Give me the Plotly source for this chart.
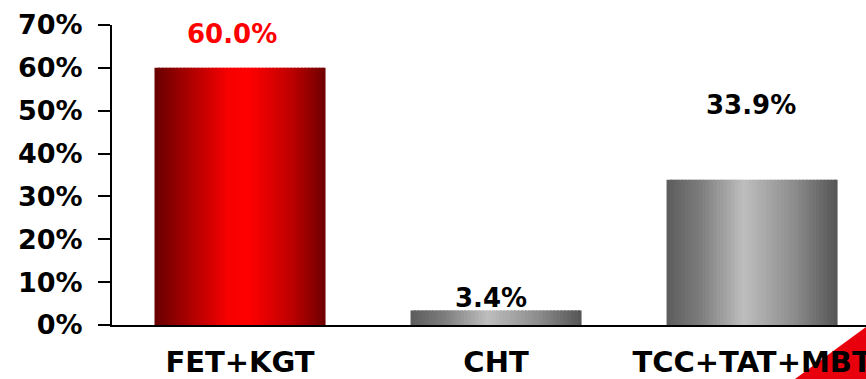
import plotly.graph_objects as go

# Data
categories = ["FET+KGT", "CHT", "TCC+TAT+MBT"]
values = [60.0, 3.4, 33.9]
label_colors = ["#ff0000", "#000000", "#000000"]
label_y = [67.9, 6.3, 51.3]          # vertical position of the value labels (axis units)
label_dx = [-8, -5, -1]              # small horizontal nudges of the labels (px)
y_ticks = [0, 10, 20, 30, 40, 50, 60, 70]
y_tick_text = [f"{t}%" for t in y_ticks]

# Horizontal shading profiles (left edge -> centre -> right edge)
red_stops = [(0.0, (104, 0, 0)), (0.2, (170, 0, 0)), (0.42, (245, 0, 0)), (0.55, (255, 0, 0)),
             (0.8, (190, 0, 0)), (1.0, (110, 0, 0))]
gray_stops = [(0.0, (92, 92, 92)), (0.2, (125, 125, 125)), (0.45, (190, 190, 190)),
              (0.75, (140, 140, 140)), (1.0, (85, 85, 85))]


def interp(stops, t):
    for (t0, c0), (t1, c1) in zip(stops[:-1], stops[1:]):
        if t0 <= t <= t1:
            f = (t - t0) / (t1 - t0) if t1 > t0 else 0
            r, g, b = (round(a + (bb - a) * f) for a, bb in zip(c0, c1))
            return f"rgb({r},{g},{b})"
    r, g, b = stops[-1][1]
    return f"rgb({r},{g},{b})"


bar_width = 0.668
n_strips = 48
step = bar_width / n_strips

fig = go.Figure()
for i in range(n_strips):
    t = (i + 0.5) / n_strips
    off = -bar_width / 2 + i * step
    w = min(step * 1.6, bar_width / 2 - off)
    cols = [interp(red_stops, t), interp(gray_stops, t), interp(gray_stops, t)]
    fig.add_trace(go.Bar(
        x=categories, y=values, width=w, offset=off,
        marker=dict(color=cols, line=dict(width=0)),
        hoverinfo="skip", showlegend=False,
    ))

for cat, v, c, ly, dx in zip(categories, values, label_colors, label_y, label_dx):
    fig.add_annotation(
        x=cat, y=ly, text=f"{v:.1f}%", showarrow=False,
        xanchor="center", yanchor="middle", xshift=dx,
        font=dict(family="DejaVu Sans", size=26, color=c, weight="bold"),
    )

# Corner accent
fig.add_shape(
    type="path", xref="paper", yref="paper", layer="below",
    path="M 0.9058 -0.18 L 1.0 -0.18 L 1.0 -0.0067 Z",
    fillcolor="#e8000d", line=dict(width=0),
)

fig.update_layout(
    width=866, height=379,
    margin=dict(l=112, r=0, t=25, b=54, autoexpand=False),
    paper_bgcolor="white", plot_bgcolor="white",
    barmode="overlay",
    font=dict(family="DejaVu Sans", color="black"),
)
fig.update_xaxes(
    type="category", range=[-0.5, 2.445],
    showline=True, linecolor="black", linewidth=2,
    ticks="", showgrid=False, zeroline=False,
    tickfont=dict(family="DejaVu Sans", size=29, color="black", weight="bold"),
    ticklabelstandoff=10,
)
fig.update_yaxes(
    range=[0, 70], tickvals=y_ticks, ticktext=y_tick_text,
    showline=True, linecolor="black", linewidth=2,
    ticks="outside", ticklen=12, tickwidth=2, tickcolor="black",
    showgrid=False, zeroline=False,
    tickfont=dict(family="DejaVu Sans", size=27, color="black", weight="bold"),
    ticklabelstandoff=10,
)

fig.write_html("out.html")
